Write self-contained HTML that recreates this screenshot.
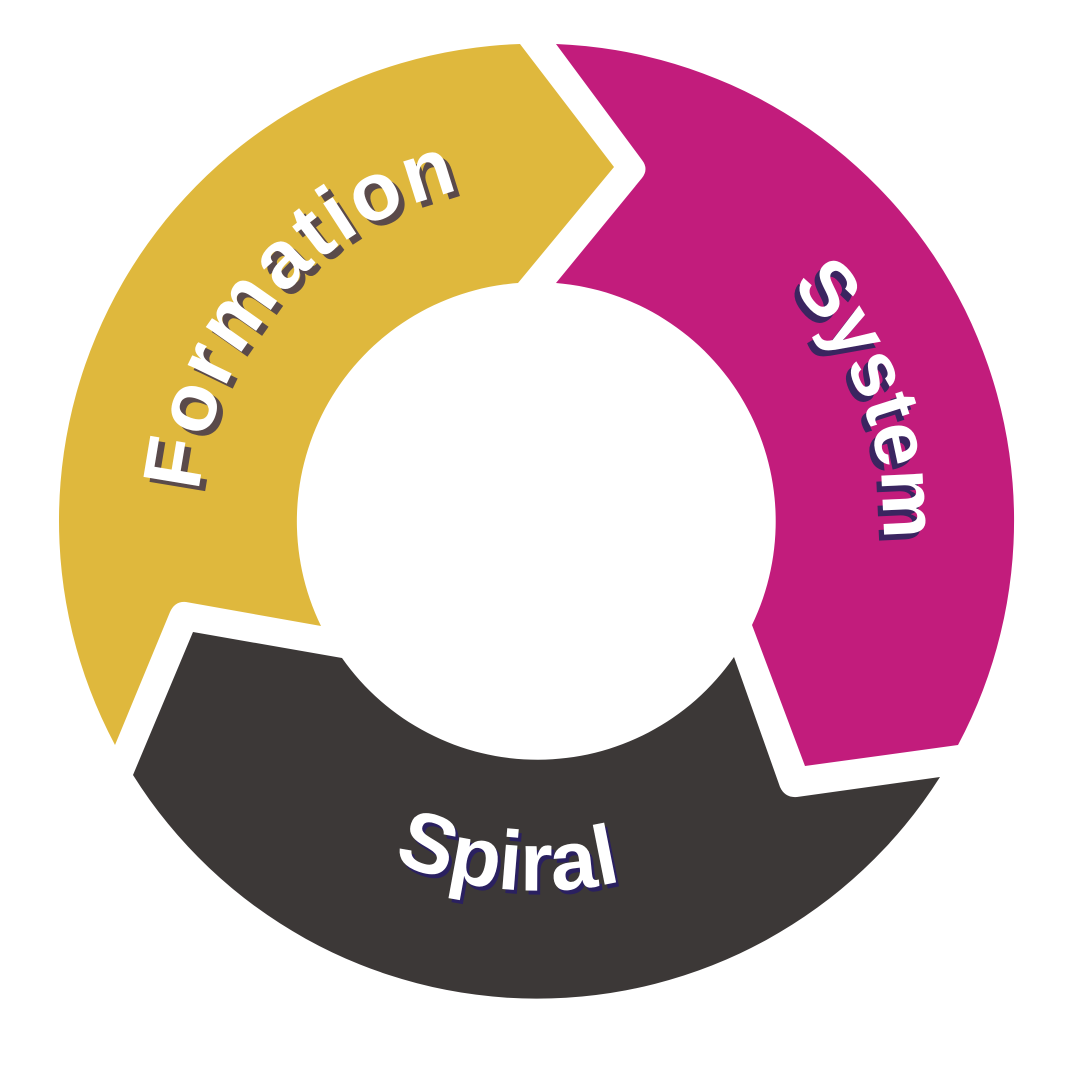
<!DOCTYPE html>
<html><head><meta charset="utf-8"><style>
html,body{margin:0;padding:0;background:#fff;width:1082px;height:1082px;overflow:hidden}
text{font-family:"Liberation Sans",sans-serif;font-weight:bold;font-size:78px}
.f{font-size:82px;letter-spacing:3px}
.p{font-size:84px}
</style></head><body>
<svg width="1082" height="1082" viewBox="0 0 1082 1082" xmlns="http://www.w3.org/2000/svg">
<defs>
<path id="pf" d="M240.6,685.8 A340,340 0 0 1 659.9,203.6"/>
<path id="ps" d="M598,181 A345,345 0 0 1 802,743"/>
<path id="pp" d="M255,759 A370,370 0 0 0 821,759"/>
</defs>
<path d="M115,745 A477,477 0 0 1 520,44 L614,167 L518,283 A239,239 0 0 0 321,626 L186,602 Q175,601 170,612 Z" fill="#dfb83d"/>
<path d="M556,44 A477,477 0 0 1 958,745 L805,766 L752,625 A239,239 0 0 0 556,283 L642,178 Q649,169 642,160 Z" fill="#c21c7c"/>
<path d="M133,775 A477,477 0 0 0 940,777 L797,797 Q785,798 780,787 L734,657 A239,239 0 0 1 342,658 L193,632 Z" fill="#3c3837"/>
<g transform="translate(6,5)" fill="#5a4a4a">
<text class="f"><textPath href="#pf" startOffset="50%" text-anchor="middle">Formation</textPath></text>
</g>
<text class="f" fill="#fff"><textPath href="#pf" startOffset="50%" text-anchor="middle">Formation</textPath></text>
<g transform="translate(-5,6)" fill="#3a2560">
<text><textPath href="#ps" startOffset="50%" text-anchor="middle">System</textPath></text>
</g>
<text fill="#fff"><textPath href="#ps" startOffset="50%" text-anchor="middle">System</textPath></text>
<g transform="translate(3,4)" fill="#2a2060">
<text class="p"><textPath href="#pp" startOffset="45%" text-anchor="middle">Spiral</textPath></text>
</g>
<text class="p" fill="#fff"><textPath href="#pp" startOffset="45%" text-anchor="middle">Spiral</textPath></text>
</svg>
</body></html>
